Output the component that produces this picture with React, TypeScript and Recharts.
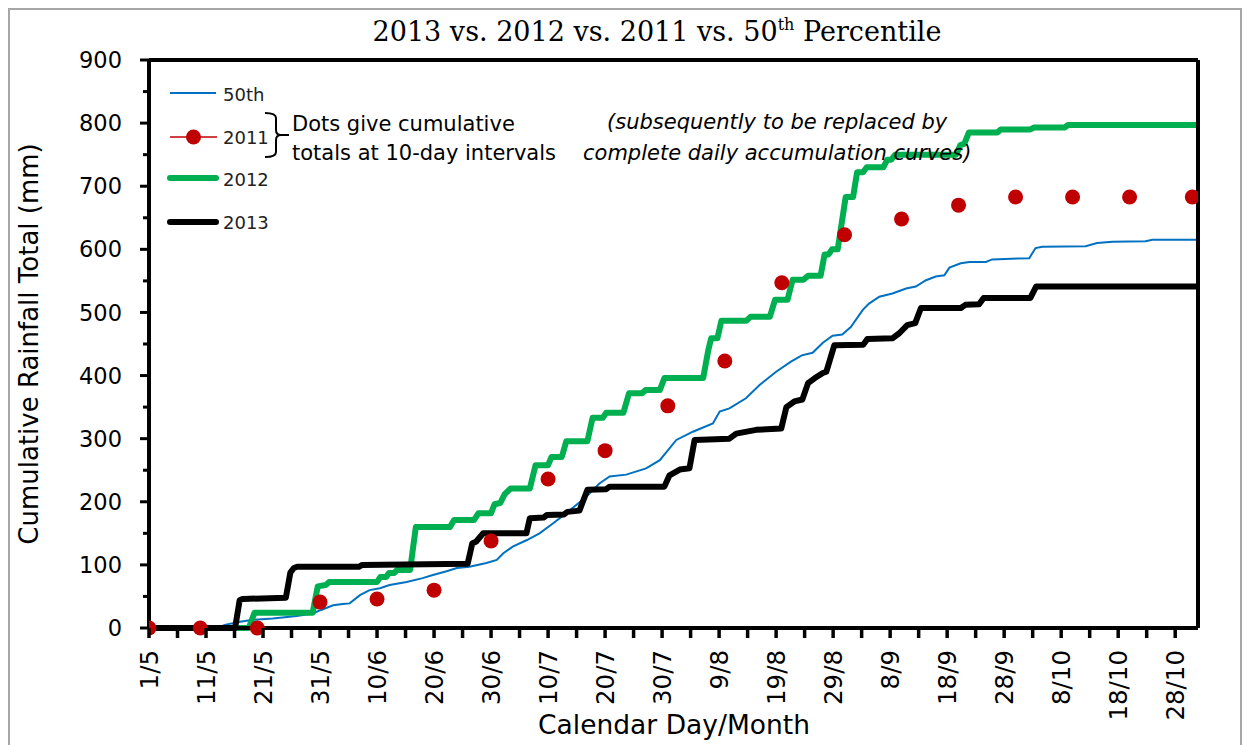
import React from "react";
import { LineChart, Line, XAxis, YAxis, ReferenceLine } from "recharts";

// ---- data (day 0 = 1 May) ----
const xTickDays = [0, 10, 20, 30, 40, 50, 60, 70, 80, 90, 100, 110, 120, 130, 140, 150, 160, 170, 180];
const xTickLabels = ["1/5", "11/5", "21/5", "31/5", "10/6", "20/6", "30/6", "10/7", "20/7", "30/7", "9/8", "19/8", "29/8", "8/9", "18/9", "28/9", "8/10", "18/10", "28/10"];
const yTicks = [0, 50, 100, 150, 200, 250, 300, 350, 400, 450, 500, 550, 600, 650, 700, 750, 800, 850, 900];

const dekadDays = [0, 9, 19, 30, 40, 50, 60, 70, 80, 91, 101, 111, 122, 132, 142, 152, 162, 172, 183];
const rain2011 = [0, 0, 0, 41, 46, 60, 138, 236, 281, 352, 423, 547, 623, 648, 670, 683, 683, 683, 683];

const pct50: [number, number][] = [
  [0, 0], [12, 0], [13.3, 5], [16, 10], [18.2, 13], [21.7, 15], [25.9, 19], [28.7, 23], [30.3, 29], [32.3, 36],
  [34, 38], [35.2, 39], [37, 52], [38.7, 60], [40.5, 63], [42.2, 68], [45.2, 73], [48, 79], [49.8, 84], [52.2, 90],
  [54, 95], [56.2, 97], [59.2, 103], [61, 108], [62.1, 118], [63.8, 129], [66.2, 139], [68.5, 150], [70.9, 166],
  [73.2, 182], [76.7, 208], [79, 229], [80.8, 240], [83.7, 243], [87.2, 253], [89.6, 266], [92.5, 298], [95.4, 311],
  [98.9, 324], [100.1, 343], [101.8, 348], [104.7, 364], [107.1, 385], [110, 406], [112.6, 422], [114.5, 432],
  [116.4, 436], [118.2, 452], [119.9, 463], [121.6, 465], [123.1, 477], [125.2, 504], [126.3, 514], [128.1, 525],
  [130.4, 530], [132.8, 538], [134.5, 541], [136.3, 551], [138, 557], [139.5, 559], [140.4, 571], [142.4, 578],
  [143.9, 580], [146.8, 580], [147.9, 584], [154.4, 586], [155.5, 602], [156.7, 604], [164.3, 605], [166.3, 610],
  [169, 612], [174.8, 613], [176, 615], [184, 615],
];

const rain2012: [number, number][] = [
  [0, 0], [17.5, 0], [18.5, 24], [28.7, 24], [29.6, 66], [31, 68], [31.6, 73], [40, 73], [40.6, 81], [41.6, 81],
  [42.1, 87], [43, 87], [43.5, 92], [45.8, 92], [46.8, 160], [52.8, 160], [53.5, 171], [57, 171], [57.8, 182],
  [60, 182], [60.6, 196], [61.6, 198], [62.4, 212], [63.4, 221], [66.8, 221], [67.8, 258], [70, 258], [70.6, 271],
  [72.4, 271], [73.2, 296], [76.9, 296], [77.8, 333], [79.6, 333], [80.2, 341], [83.2, 341], [84.2, 372], [86.5, 372],
  [87.1, 377], [89.6, 377], [90.4, 396], [97.2, 396], [98.1, 440], [98.6, 459], [99.7, 459], [100.4, 487], [104.8, 487],
  [105.5, 493], [108.9, 493], [109.8, 520], [112, 520], [112.9, 552], [114.8, 552], [115.6, 558], [117.8, 558],
  [118.5, 592], [119.2, 592], [119.8, 600], [120.8, 600], [122.2, 683], [123.5, 683], [124.2, 722], [125.2, 722],
  [125.9, 730], [128.8, 730], [129.5, 742], [130.2, 742], [130.9, 750], [141.6, 750], [142.3, 765], [143, 767],
  [143.8, 785], [148.8, 785], [149.4, 790], [154.6, 790], [155.2, 793], [160.6, 793], [161.2, 797], [184, 797],
];

const rain2013: [number, number][] = [
  [0, 0], [15.1, 0], [15.9, 44], [16.4, 46], [24, 48], [24.8, 88], [25.4, 95], [26, 97], [36.8, 97], [37.4, 100],
  [55.9, 102], [56.7, 134], [57.4, 137], [58.6, 150], [66.2, 150], [66.8, 174], [69.2, 175], [69.8, 179], [72.8, 180],
  [73.4, 184], [75.5, 186], [76.9, 219], [80.2, 220], [80.8, 224], [90.4, 224], [91.3, 242], [93.1, 251], [94.8, 253],
  [95.7, 298], [101.8, 300], [103, 308], [106.5, 314], [110.9, 316], [111.8, 350], [113.2, 359], [114.6, 362],
  [115.6, 388], [116.8, 396], [118.2, 404], [118.8, 406], [120.2, 448], [125.3, 449], [126, 458], [130.4, 459],
  [131.6, 467], [133, 480], [134.4, 483], [135.4, 507], [142.4, 507], [143.2, 512], [145.6, 513], [146.4, 523],
  [154.6, 523], [155.6, 541], [184, 541],
];

// ---- styles ----
const BLUE = "#0070C0";
const RED = "#C00000";
const GREEN = "#00B050";
const BLACK = "#000000";
const SANS = "DejaVu Sans";
const W = 1234;
const H = 737;

const toRows = (pts: [number, number][]) => pts.map(([d, v]) => ({ d, v }));
const rows2011 = dekadDays.map((d, i) => ({ d, v: rain2011[i] }));
const minorXTicks = xTickDays.flatMap((d) => (d < 180 ? [d, d + 5] : [d]));

const XTick = (props: any) => {
  const { x, y, payload } = props;
  const idx = xTickDays.indexOf(payload.value);
  return (
    <g>
      <line x1={x} y1={y} x2={x} y2={y + 10} stroke={BLACK} strokeWidth={3.5} />
      {idx >= 0 && (
        <text
          x={x}
          y={y + 22}
          dy="0.36em"
          textAnchor="end"
          transform={`rotate(-90, ${x}, ${y + 22})`}
          fontFamily={SANS}
          fontSize={24.5}
          fill="#000"
        >
          {xTickLabels[idx]}
        </text>
      )}
    </g>
  );
};

const YTickLeft = (props: any) => {
  const { x, y, payload } = props;
  const major = payload.value % 100 === 0;
  return (
    <g>
      <line x1={x} y1={y} x2={x - (major ? 9 : 6)} y2={y} stroke={BLACK} strokeWidth={3} />
      {major && (
        <text x={x - 27} y={y} dy="0.36em" textAnchor="end" fontFamily={SANS} fontSize={22.5} fill="#000">
          {payload.value}
        </text>
      )}
    </g>
  );
};

const YTickRight = (props: any) => {
  const { x, y, payload } = props;
  const major = payload.value % 100 === 0;
  return <line x1={x} y1={y} x2={x + (major ? 10 : 8)} y2={y} stroke={BLACK} strokeWidth={3} />;
};

const Overlay = () => (
  <svg width={W} height={H} style={{ position: "absolute", left: 0, top: 0, pointerEvents: "none" }}>
    {/* title */}
    <text x={649} y={33} textAnchor="middle" fontFamily="DejaVu Serif" fontSize={27} fill="#000">
      2013 vs. 2012 vs. 2011 vs. 50
      <tspan dy={-11} fontSize={16}>th</tspan>
      <tspan dy={11}> Percentile</tspan>
    </text>
    {/* axis titles */}
    <text x={666} y={726} textAnchor="middle" fontFamily={SANS} fontSize={26.5} fill="#000">
      Calendar Day/Month
    </text>
    <text
      x={30}
      y={336}
      textAnchor="middle"
      transform="rotate(-90, 30, 336)"
      fontFamily={SANS}
      fontSize={26}
      fill="#000"
    >
      Cumulative Rainfall Total (mm)
    </text>
    {/* legend */}
    <line x1={162} y1={85} x2={208} y2={85} stroke={BLUE} strokeWidth={2} />
    <text x={215} y={92.5} fontFamily={SANS} fontSize={18} fill="#222">50th</text>
    <line x1={162} y1={129} x2={209} y2={129} stroke={RED} strokeWidth={1.5} />
    <circle cx={185.5} cy={129} r={7.5} fill={RED} />
    <text x={215} y={135.5} fontFamily={SANS} fontSize={18} fill="#222">2011</text>
    <line x1={162} y1={170} x2={208} y2={170} stroke={GREEN} strokeWidth={6} strokeLinecap="round" />
    <text x={215} y={178} fontFamily={SANS} fontSize={18} fill="#222">2012</text>
    <line x1={162} y1={214} x2={208} y2={214} stroke={BLACK} strokeWidth={6} strokeLinecap="round" />
    <text x={215} y={220.5} fontFamily={SANS} fontSize={18} fill="#222">2013</text>
    {/* bracket */}
    <path
      d="M257 105 Q268 105 268 110 V122 Q268 127 273 127 H281 M273 127 Q268 127 268 132 V144 Q268 149 257 149"
      fill="none"
      stroke="#000"
      strokeWidth={2}
    />
    <text x={284} y={123} fontFamily={SANS} fontSize={21} fill="#000">Dots give cumulative</text>
    <text x={284} y={152} fontFamily={SANS} fontSize={21} fill="#000">totals at 10-day intervals</text>
    {/* annotation */}
    <text x={599} y={121} fontFamily={SANS} fontStyle="italic" fontSize={21} fill="#000">
      (subsequently to be replaced by
    </text>
    <text x={575} y={152} fontFamily={SANS} fontStyle="italic" fontSize={21} fill="#000">
      complete daily accumulation curves)
    </text>
  </svg>
);

export default function App() {
  return (
    <div style={{ position: "relative", width: W, height: H, background: "#fff" }}>
      <LineChart width={W} height={H} margin={{ top: 52, right: 24, bottom: 37, left: 41 }}>
        <XAxis
          dataKey="d"
          type="number"
          domain={[0, 184]}
          allowDataOverflow
          ticks={minorXTicks}
          interval={0}
          height={80}
          tickSize={0}
          tickMargin={0}
          tickLine={false}
          axisLine={{ stroke: BLACK, strokeWidth: 4 }}
          tick={<XTick />}
        />
        <YAxis
          yAxisId="l"
          type="number"
          domain={[0, 900]}
          ticks={yTicks}
          interval={0}
          width={100}
          tickSize={0}
          tickMargin={0}
          tickLine={false}
          axisLine={{ stroke: BLACK, strokeWidth: 4 }}
          tick={<YTickLeft />}
        />
        <YAxis
          yAxisId="r"
          orientation="right"
          type="number"
          domain={[0, 900]}
          ticks={yTicks}
          interval={0}
          width={20}
          tickSize={0}
          tickMargin={0}
          tickLine={false}
          axisLine={{ stroke: BLACK, strokeWidth: 4 }}
          tick={<YTickRight />}
        />
        <Line
          yAxisId="l"
          data={toRows(pct50)}
          dataKey="v"
          type="linear"
          stroke={BLUE}
          strokeWidth={2}
          dot={false}
          activeDot={false}
          isAnimationActive={false}
        />
        <Line
          yAxisId="l"
          data={rows2011}
          dataKey="v"
          type="linear"
          stroke="none"
          strokeWidth={0}
          dot={{ r: 7.5, fill: RED, stroke: "none" }}
          activeDot={false}
          isAnimationActive={false}
        />
        <Line
          yAxisId="l"
          data={toRows(rain2012)}
          dataKey="v"
          type="linear"
          stroke={GREEN}
          strokeWidth={6}
          strokeLinejoin="round"
          dot={false}
          activeDot={false}
          isAnimationActive={false}
        />
        <Line
          yAxisId="l"
          data={toRows(rain2013)}
          dataKey="v"
          type="linear"
          stroke={BLACK}
          strokeWidth={6}
          strokeLinejoin="round"
          dot={false}
          activeDot={false}
          isAnimationActive={false}
        />
        <ReferenceLine yAxisId="l" y={900} stroke={BLACK} strokeWidth={4} />
      </LineChart>
      <Overlay />
      <div
        style={{
          position: "absolute",
          left: 0,
          top: 0,
          width: W,
          height: 745,
          border: "2px solid #a6a6a6",
          boxSizing: "border-box",
          pointerEvents: "none",
        }}
      />
    </div>
  );
}
